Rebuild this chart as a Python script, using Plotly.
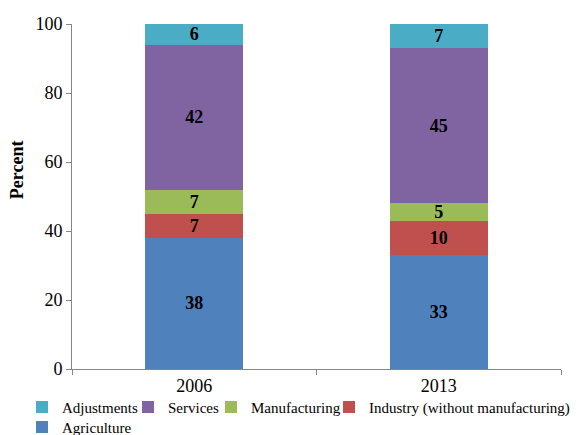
import plotly.graph_objects as go

years = ["2006", "2013"]
sectors = ["Agriculture", "Industry (without manufacturing)", "Manufacturing", "Services", "Adjustments"]
agriculture = [38, 33]
industry = [7, 10]
manufacturing = [7, 5]
services = [42, 45]
adjustments = [6, 7]

series = [agriculture, industry, manufacturing, services, adjustments]
colors = ["#4F81BD", "#C0504D", "#9BBB59", "#8064A2", "#4BACC6"]
# which legend box each series goes to, and the width reserved for its label
legend_ids = ["legend3", "legend2", "legend", "legend", "legend"]
legend_widths = [70, 200, 86, 38, 61]

FONT = "Liberation Serif"

fig = go.Figure()
for name, vals, col, lg, lw in zip(sectors, series, colors, legend_ids, legend_widths):
    fig.add_trace(go.Bar(
        x=years, y=vals, name=name,
        marker=dict(color=col, line=dict(width=0)),
        width=0.4,
        text=vals, texttemplate="<b>%{text}</b>",
        textposition="inside", insidetextanchor="middle", textangle=0,
        constraintext="none",
        insidetextfont=dict(family=FONT, size=18, color="black"),
        legend=lg, legendwidth=lw,
        hoverinfo="skip",
    ))

legend_common = dict(
    orientation="h", traceorder="reversed",
    font=dict(family=FONT, size=15, color="black"),
    bgcolor="rgba(0,0,0,0)", itemwidth=30,
    xanchor="left", yanchor="middle",
    itemclick=False, itemdoubleclick=False,
)

fig.update_layout(
    width=585, height=435,
    margin=dict(l=72, r=24, t=24, b=66, autoexpand=False),
    paper_bgcolor="white", plot_bgcolor="white",
    barmode="stack", bargap=0.6,
    font=dict(family=FONT, size=18, color="black"),
    showlegend=True,
    legend=dict(x=-0.1022, y=-0.111, **legend_common),
    legend2=dict(x=0.5256, y=-0.111, **legend_common),
    legend3=dict(x=-0.1022, y=-0.169, **legend_common),
    xaxis=dict(
        type="category", tickson="boundaries",
        ticks="outside", ticklen=5, tickcolor="#868686",
        showline=True, linecolor="#868686", linewidth=1,
        showgrid=False, zeroline=False,
        tickfont=dict(family=FONT, size=18, color="black"),
        fixedrange=True,
    ),
    yaxis=dict(
        range=[0, 100], dtick=20, tick0=0,
        ticks="outside", ticklen=5, tickcolor="#868686",
        showline=True, linecolor="#868686", linewidth=1,
        showgrid=False, zeroline=False,
        tickfont=dict(family=FONT, size=18, color="black"),
        fixedrange=True,
    ),
    annotations=[dict(
        text="<b>Percent</b>", textangle=-90,
        xref="paper", yref="paper", x=-0.112, y=0.577,
        xanchor="center", yanchor="middle", showarrow=False,
        font=dict(family=FONT, size=18, color="black"),
    )],
)

fig.write_html("out.html", config={"displayModeBar": False})
